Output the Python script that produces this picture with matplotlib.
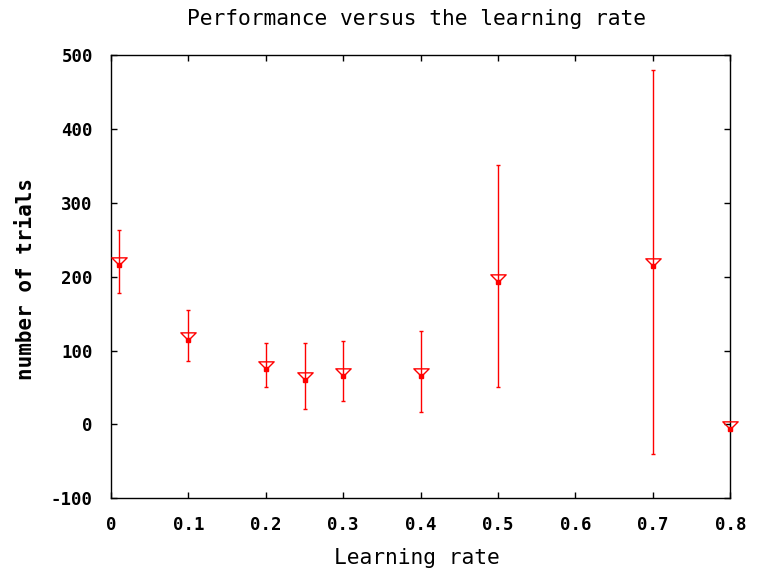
import matplotlib
matplotlib.use('Agg')
import matplotlib.pyplot as plt
import numpy as np
from matplotlib.path import Path

# learning rate vs number of trials (mean, min, max)
rate = [0.01, 0.1, 0.2, 0.25, 0.3, 0.4, 0.5, 0.7, 0.8]
trials = [216, 114, 75, 60, 65, 65, 193, 214, -6]
trials_lo = [178, 86, 51, 21, 32, 17, 51, -40, -6]
trials_hi = [264, 155, 110, 110, 113, 126, 352, 480, -6]

x_ticks = [0, 0.1, 0.2, 0.3, 0.4, 0.5, 0.6, 0.7, 0.8]
x_labels = ['0', '0.1', '0.2', '0.3', '0.4', '0.5', '0.6', '0.7', '0.8']
y_ticks = [-100, 0, 100, 200, 300, 400, 500]

plt.rcParams['font.family'] = ['DejaVu Sans Mono']
plt.rcParams['axes.unicode_minus'] = False

fig = plt.figure(figsize=(7.58, 5.73), dpi=100)
ax = fig.add_axes([0.1464, 0.1304, 0.8171, 0.7731])

y = np.array(trials)
yerr = [y - np.array(trials_lo), np.array(trials_hi) - y]

ax.errorbar(rate, trials, yerr=yerr, fmt='none', ecolor='#ff0000',
            elinewidth=1.0, capsize=1.6, capthick=1.0, clip_on=False, zorder=3)

# open downward triangle with its apex on the point (gnuplot style)
tri = Path([(-1, 1), (1, 1), (0, 0), (-1, 1)],
           [Path.MOVETO, Path.LINETO, Path.LINETO, Path.CLOSEPOLY])
ax.plot(rate, trials, linestyle='none', marker=tri, markersize=11,
        markerfacecolor='none', markeredgecolor='#ff0000', markeredgewidth=1.0,
        clip_on=False, zorder=4)
ax.plot(rate, trials, linestyle='none', marker='s', markersize=2.6,
        color='#ff0000', clip_on=False, zorder=5)

ax.set_xlim(0, 0.8)
ax.set_ylim(-100, 500)
ax.set_xticks(x_ticks)
ax.set_xticklabels(x_labels)
ax.set_yticks(y_ticks)

ax.tick_params(direction='in', length=4.5, width=1.0, top=True, right=True,
               labelsize=12.5, color='black')
ax.tick_params(axis='x', pad=13)
ax.tick_params(axis='y', pad=13)
for lab in ax.get_xticklabels() + ax.get_yticklabels():
    lab.set_fontweight('bold')
for sp in ax.spines.values():
    sp.set_linewidth(1.0)
    sp.set_color('black')

fig.text(0.5495, 0.967, 'Performance versus the learning rate', ha='center',
         va='center', fontsize=15.3)
fig.text(0.5495, 0.027, 'Learning rate', ha='center', va='center', fontsize=15.3)
fig.text(0.034, 0.513, 'number of trials', ha='center', va='center',
         rotation=90, fontsize=15, fontweight='bold')

plt.savefig('out.png', dpi=100)
